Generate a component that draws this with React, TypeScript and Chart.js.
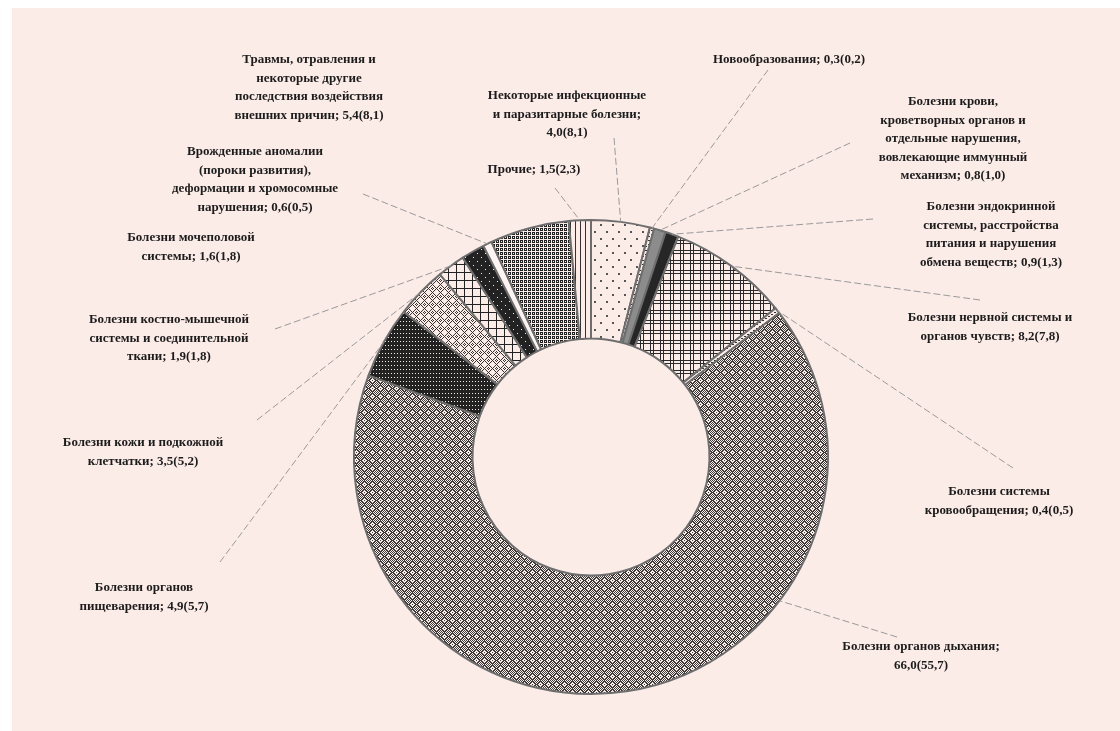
import React, { useEffect, useRef } from "react";
import { Chart, registerables } from "chart.js";

Chart.register(...registerables);

// ---------- DATA ----------
const categories = [
  "Некоторые инфекционные и паразитарные болезни",
  "Новообразования",
  "Болезни крови, кроветворных органов и отдельные нарушения, вовлекающие иммунный механизм",
  "Болезни эндокринной системы, расстройства питания и нарушения обмена веществ",
  "Болезни нервной системы и органов чувств",
  "Болезни системы кровообращения",
  "Болезни органов дыхания",
  "Болезни органов пищеварения",
  "Болезни кожи и подкожной клетчатки",
  "Болезни костно-мышечной системы и соединительной ткани",
  "Болезни мочеполовой системы",
  "Врожденные аномалии (пороки развития), деформации и хромосомные нарушения",
  "Травмы, отравления и некоторые другие последствия воздействия внешних причин",
  "Прочие",
];

const valuesCurrent = [4.0, 0.3, 0.8, 0.9, 8.2, 0.4, 66.0, 4.9, 3.5, 1.9, 1.6, 0.6, 5.4, 1.5];
const valuesPrevious = [8.1, 0.2, 1.0, 1.3, 7.8, 0.5, 55.7, 5.7, 5.2, 1.8, 1.8, 0.5, 8.1, 2.3];

// label text lines (value text appended to last line; empty last line => value on its own line)
const labelLines: string[][] = [
  ["Некоторые инфекционные", "и паразитарные болезни;", ""],
  ["Новообразования;"],
  ["Болезни крови,", "кроветворных органов и", "отдельные нарушения,", "вовлекающие иммунный", "механизм;"],
  ["Болезни эндокринной", "системы, расстройства", "питания и нарушения", "обмена веществ;"],
  ["Болезни нервной системы и", "органов чувств;"],
  ["Болезни системы", "кровообращения;"],
  ["Болезни органов дыхания;", ""],
  ["Болезни органов", "пищеварения;"],
  ["Болезни кожи и подкожной", "клетчатки;"],
  ["Болезни костно-мышечной", "системы и соединительной", "ткани;"],
  ["Болезни мочеполовой", "системы;"],
  ["Врожденные аномалии", "(пороки развития),", "деформации и хромосомные", "нарушения;"],
  ["Травмы, отравления и", "некоторые другие", "последствия воздействия", "внешних причин;"],
  ["Прочие;"],
];

// ---------- LAYOUT (label placement, not data) ----------
const labelCenters: [number, number][] = [
  [567, 96], [789, 60], [953, 102], [991, 207], [990, 318], [999, 492], [921, 647],
  [144, 588], [143, 443], [169, 320], [191, 238], [255, 152], [309, 60], [534, 170],
];
const leaderEnds: ([number, number] | null)[] = [
  [614, 138], [768, 70], [850, 143], [873, 219], [980, 300], [1013, 468], [897, 637],
  [220, 562], [257, 420], [275, 329], null, [363, 194], null, [555, 188],
];

const PINK = "#fcece8";
const DARK = "#222222";

function fmt(v: number) {
  return v.toFixed(1).replace(".", ",");
}

function bitmapPattern(ctx: CanvasRenderingContext2D, rows: string[], dark: string, light: string) {
  const h = rows.length;
  const w = rows[0].length;
  const c = document.createElement("canvas");
  c.width = w;
  c.height = h;
  const x = c.getContext("2d")!;
  x.fillStyle = light;
  x.fillRect(0, 0, w, h);
  x.fillStyle = dark;
  for (let r = 0; r < h; r++) {
    for (let q = 0; q < w; q++) {
      if (rows[r][q] === "X") x.fillRect(q, r, 1, 1);
    }
  }
  return ctx.createPattern(c, "repeat")!;
}

function genRows(w: number, h: number, f: (x: number, y: number) => boolean) {
  const rows: string[] = [];
  for (let y = 0; y < h; y++) {
    let s = "";
    for (let x = 0; x < w; x++) s += f(x, y) ? "X" : ".";
    rows.push(s);
  }
  return rows;
}

function makeFills(ctx: CanvasRenderingContext2D) {
  const dots = bitmapPattern(
    ctx,
    genRows(12, 14, (x, y) => (x < 2 && y < 2) || (x >= 6 && x < 8 && y >= 7 && y < 9)),
    "#555",
    PINK
  );
  const dashes = bitmapPattern(ctx, ["XX....", "......", "...XX.", "......"], "#333", PINK);
  const plaid = bitmapPattern(ctx, genRows(10, 10, (x, y) => x === 0 || x === 3 || y === 0 || y === 3), "#2a2a2a", PINK);
  const resp = bitmapPattern(
    ctx,
    genRows(8, 8, (x, y) => {
      const r = Math.abs(x - 4) + Math.abs(y - 4);
      return ((x + y) % 2 === 0 && r !== 2) || r === 3;
    }),
    "#3a3a3a",
    PINK
  );
  const digest = bitmapPattern(ctx, ["XXX", "X.X", "XXX", "XXX"], DARK, PINK);
  const skin = bitmapPattern(
    ctx,
    genRows(8, 8, (x, y) => (x + y) % 8 === 4 || (x - y + 8) % 8 === 4 || (Math.abs(x - 0) + Math.abs(y - 0) === 1) || (x === 7 && y === 0) || (x === 0 && y === 7)),
    "#333",
    PINK
  );
  const grid = bitmapPattern(ctx, genRows(8, 8, (x, y) => x === 0 || y === 0), DARK, PINK);
  const darkDots = bitmapPattern(
    ctx,
    genRows(8, 8, (x, y) => !((x === 1 && y === 1) || (x === 5 && y === 5))),
    DARK,
    PINK
  );
  const rings = bitmapPattern(ctx, ["XXX.", "X.X.", "XXX.", "...."], DARK, PINK);
  const vlines = bitmapPattern(ctx, ["X...."], "#333", PINK);
  return [
    dots, dashes, "#8c8c8c", "#262626", plaid, dashes, resp,
    digest, skin, grid, darkDots, "#fdf4f1", rings, vlines,
  ];
}

const bgPlugin = {
  id: "bgPlugin",
  beforeDraw(chart: any) {
    const ctx = chart.ctx as CanvasRenderingContext2D;
    ctx.save();
    ctx.fillStyle = "#ffffff";
    ctx.fillRect(0, 0, chart.width, chart.height);
    ctx.fillStyle = PINK;
    ctx.fillRect(12, 8, chart.width - 12, chart.height - 8);
    ctx.restore();
  },
};

const labelPlugin = {
  id: "labelPlugin",
  afterDatasetsDraw(chart: any) {
    const ctx = chart.ctx as CanvasRenderingContext2D;
    const meta = chart.getDatasetMeta(0);
    meta.data.forEach((arc: any, i: number) => {
      const { x, y, startAngle, endAngle, outerRadius } = arc.getProps(
        ["x", "y", "startAngle", "endAngle", "outerRadius"],
        true
      );
      const end = leaderEnds[i];
      if (end) {
        const span = endAngle - startAngle;
        let a = (startAngle + endAngle) / 2;
        if (span > Math.PI / 2) {
          let d = Math.atan2(end[1] - y, end[0] - x);
          while (d < startAngle) d += Math.PI * 2;
          while (d > startAngle + Math.PI * 2) d -= Math.PI * 2;
          a = Math.min(Math.max(d + 0.12, startAngle + 0.05 * span), endAngle - 0.05 * span);
        }
        const px = x + Math.cos(a) * outerRadius;
        const py = y + Math.sin(a) * outerRadius;
        ctx.save();
        ctx.strokeStyle = "#9a9a9a";
        ctx.lineWidth = 1;
        ctx.setLineDash([7, 3]);
        ctx.beginPath();
        ctx.moveTo(end[0], end[1]);
        ctx.lineTo(px, py);
        ctx.stroke();
        ctx.restore();
      }
      const lines = labelLines[i].slice();
      const valText = fmt(valuesCurrent[i]) + "(" + fmt(valuesPrevious[i]) + ")";
      const last = lines.length - 1;
      lines[last] = lines[last] ? lines[last] + " " + valText : valText;
      const [cx, cy] = labelCenters[i];
      ctx.save();
      ctx.fillStyle = "#1c1c1c";
      ctx.font = 'bold 13px "Liberation Serif"';
      ctx.textAlign = "center";
      ctx.textBaseline = "middle";
      lines.forEach((ln, k) => {
        ctx.fillText(ln, cx, cy + k * 18.5);
      });
      ctx.restore();
    });
  },
};

export default function App() {
  const ref = useRef<HTMLCanvasElement | null>(null);
  useEffect(() => {
    const canvas = ref.current!;
    const ctx = canvas.getContext("2d")!;
    const fills = makeFills(ctx);
    const chart = new Chart(canvas, {
      type: "doughnut",
      data: {
        labels: categories,
        datasets: [
          {
            data: valuesCurrent,
            backgroundColor: fills as any,
            borderColor: "#6e6e6e",
            borderWidth: 2,
          },
        ],
      },
      options: {
        responsive: false,
        animation: false,
        cutout: "50%",
        layout: { padding: { left: 353, right: 291, top: 219, bottom: 36 } },
        plugins: {
          legend: { display: false },
          tooltip: { enabled: false },
        },
      },
      plugins: [bgPlugin, labelPlugin],
    });
    return () => chart.destroy();
  }, []);
  return (
    <div style={{ position: "absolute", left: 0, top: 0, width: 1120, height: 731 }}>
      <canvas ref={ref} width={1120} height={731} style={{ display: "block" }} />
    </div>
  );
}
